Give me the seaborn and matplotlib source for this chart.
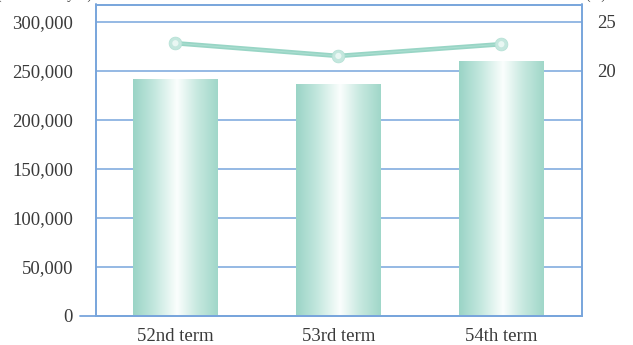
import numpy as np
import pandas as pd
import matplotlib
matplotlib.use("Agg")
import matplotlib.pyplot as plt
from matplotlib.colors import LinearSegmentedColormap
import seaborn as sns

# Data
terms = ["52nd term", "53rd term", "54th term"]
amounts = [242000, 236500, 260000]          # left axis (millions of yen)
ratios = [22.8, 21.5, 22.7]                 # right axis (%)
left_ticks = [0, 50000, 100000, 150000, 200000, 250000, 300000]
right_ticks = [20, 25]

sns.set_theme(style="white")
plt.rcParams["font.family"] = ["Liberation Serif", "DejaVu Serif"]

BLUE = "#78a5dc"
TEAL = "#9dd5c7"
TEXT = "#3a3a3a"

df = pd.DataFrame({"term": terms, "amount": amounts, "ratio": ratios})

fig = plt.figure(figsize=(6.33, 3.45), dpi=100)
ax = fig.add_axes([96 / 633, 1 - 315.7 / 345, 485.7 / 633, 311.2 / 345])

sns.barplot(data=df, x="term", y="amount", ax=ax, width=0.52,
            color=TEAL, saturation=1, zorder=3)

# Horizontal gradient fill for each bar: teal edges, white centre
cmap = LinearSegmentedColormap.from_list(
    "bar", [(0.0, "#9ad4c6"), (0.25, "#c3e7de"), (0.52, "#fbfefd"),
            (0.75, "#c8e9e0"), (1.0, "#a0d7c9")])
grad = np.linspace(0, 1, 256).reshape(1, -1)
for p in ax.patches:
    x0, y0 = p.get_x(), p.get_y()
    w, h = p.get_width(), p.get_height()
    p.set_facecolor("none")
    p.set_edgecolor("none")
    im = ax.imshow(grad, cmap=cmap, extent=[x0, x0 + w, y0, y0 + h],
                   aspect="auto", zorder=3, interpolation="bilinear")
    im.set_clip_path(p)
ax.set_xlim(-0.487, 2.493)
ax.set_ylim(0, 317500)

# Grid and frame
ax.set_yticks(left_ticks)
ax.set_yticklabels([f"{v:,}" for v in left_ticks])
for v in left_ticks[1:]:
    ax.axhline(v, color=BLUE, lw=1.1, zorder=1)
ax.axhline(0, xmin=-16 / 485.7, xmax=1, color=BLUE, lw=1.3,
           zorder=4, clip_on=False)
for s in ax.spines.values():
    s.set_color(BLUE)
    s.set_linewidth(1.2)
ax.tick_params(axis="y", length=0, pad=16.5, labelsize=13.5, labelcolor=TEXT)
ax.tick_params(axis="x", length=0, pad=9, labelsize=13.5, labelcolor=TEXT)
ax.set_xlabel("")
ax.set_ylabel("")

# Ratio line on the secondary axis
ax2 = ax.twinx()
sns.lineplot(data=df, x="term", y="ratio", ax=ax2, color="#98d5c5",
             lw=3.3, sort=False, zorder=5)
sns.lineplot(data=df, x="term", y="ratio", ax=ax2, color="#abded1",
             lw=0.8, sort=False, zorder=6)
sns.scatterplot(data=df, x="term", y="ratio", ax=ax2, s=85,
                color="#c4e7de", edgecolor="#b3e0d4", linewidth=0.5,
                zorder=7)
sns.scatterplot(data=df, x="term", y="ratio", ax=ax2, s=20,
                color="#e9f7f3", edgecolor="none", zorder=8)
ax2.set_ylim(-5, 26.75)
ax2.set_yticks(right_ticks)
ax2.set_yticklabels([str(v) for v in right_ticks])
ax2.tick_params(axis="y", length=0, pad=11, labelsize=13.5, labelcolor=TEXT)
ax2.set_xlabel("")
ax2.set_ylabel("")
for s in ax2.spines.values():
    s.set_color(BLUE)
    s.set_linewidth(1.2)
ax2.grid(False)
ax.set_xlim(-0.487, 2.493)

# Unit captions along the top edge
fig.text(92 / 633, 1.0 + 1.0 / 345, "(Millions of yen)", ha="right",
         va="baseline", fontsize=10, color=TEXT)
fig.text(596 / 633, 1.0 + 1.0 / 345, "(%)", ha="center",
         va="baseline", fontsize=10, color=TEXT)

fig.savefig("out.png", dpi=100)
